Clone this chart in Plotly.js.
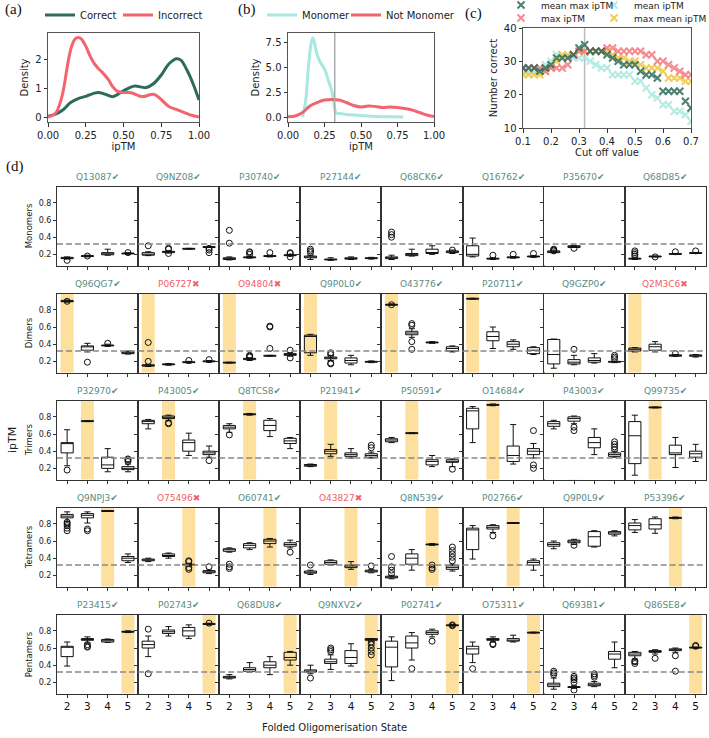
<!DOCTYPE html>
<html><head><meta charset="utf-8">
<script src="https://cdn.plot.ly/plotly-3.0.1.min.js"></script>
<style>body{margin:0;background:#fff}#chart{width:709px;height:738px}</style>
</head><body><div id="chart"></div>
<script>
// ---------- (a) density of ipTM: correct vs incorrect ----------
const correctX = [0,0.05,0.1,0.15,0.2,0.25,0.33,0.38,0.43,0.5,0.57,0.65,0.7,0.75,0.8,0.85,0.88,0.92,0.96,1.0];
const correctY = [0.05,0.12,0.27,0.52,0.65,0.73,0.86,0.8,0.72,0.92,1.08,1.03,1.17,1.46,1.84,2.02,1.97,1.63,1.17,0.6];
const incorrectX = [0,0.05,0.08,0.1,0.12,0.14,0.16,0.18,0.2,0.22,0.25,0.28,0.3,0.33,0.36,0.4,0.43,0.46,0.5,0.55,0.6,0.63,0.7,0.75,0.8,0.85,0.9,0.95,1.0];
const incorrectY = [0.02,0.15,0.5,0.9,1.5,2.1,2.5,2.7,2.75,2.7,2.45,2.1,1.9,1.7,1.55,1.3,1.05,0.9,0.86,0.85,0.75,0.72,0.8,0.62,0.38,0.28,0.18,0.08,0.02];
// ---------- (b) density: monomer vs not monomer ----------
const monoX = [0.1,0.12,0.14,0.16,0.17,0.18,0.2,0.22,0.25,0.28,0.3,0.31,0.32,0.33,0.36,0.4,0.45,0.5,0.6,0.7,0.79];
const monoY = [0.0,1.5,5.0,7.5,7.9,7.5,6.2,5.5,4.8,3.5,2.6,1.8,0.8,0.4,0.35,0.25,0.2,0.15,0.05,0.02,0.01];
const notMonoX = [0,0.05,0.1,0.15,0.2,0.25,0.3,0.35,0.4,0.45,0.5,0.55,0.6,0.65,0.7,0.75,0.8,0.85,0.9,0.95,1.0];
const notMonoY = [0.02,0.1,0.45,1.1,1.45,1.7,1.75,1.7,1.45,1.15,1.0,1.1,1.05,0.95,1.0,0.95,0.85,0.7,0.45,0.2,0.05];
// ---------- (c) number correct vs cut off ----------
const cutoffs = [0.1,0.12,0.14,0.16,0.18,0.2,0.22,0.24,0.26,0.28,0.3,0.32,0.34,0.36,0.38,0.4,0.42,0.44,0.46,0.48,0.5,0.52,0.54,0.56,0.58,0.6,0.62,0.64,0.66,0.68,0.7];
const meanMaxIptm = [28,28,28,27,28,29,31,31,31,32,34,35,33,33,33,32,31,30,29,29,29,27,26,26,25,21,21,21,21,18,16];
const maxIptm = [28,28,28,28,27,28,28,28,29,32,33,33,33,33,33,34,34,33,33,33,33,33,32,32,30,30,29,28,27,26,26];
const meanIptm = [27,27,27,27,29,30,32,31,31,31,31,31,30,29,28,28,26,26,26,26,24,24,22,20,19,17,17,15,15,14,12];
const maxMeanIptm = [26,26,26,26,27,28,30,32,32,32,33,33,33,33,33,33,32,31,31,30,30,29,28,28,28,27,25,25,25,24,24];
const cutLine = 0.32;

// ---------- (d) box plots ----------
const rowNames = ['Monomers','Dimers','Trimers','Tetramers','Pentamers'];
const states = [2,3,4,5];
const monomerIds = ['Q13087','Q9NZ08','P30740','P27144','Q68CK6','Q16762','P35670','Q68D85'];
const dimerIds = ['Q96QG7','P06727','O94804','Q9P0L0','O43776','P20711','Q9GZP0','Q2M3C6'];
const trimerIds = ['P32970','P43005','Q8TCS8','P21941','P50591','O14684','P43003','Q99735'];
const tetramerIds = ['Q9NPJ3','O75496','O60741','O43827','Q8N539','P02766','Q9P0L9','P53396'];
const pentamerIds = ['P23415','P02743','Q68DU8','Q9NXV2','P02741','O75311','Q693B1','Q86SE8'];
const monomerOk = [1,1,1,1,1,1,1,1];
const dimerOk = [1,0,0,1,1,1,1,0];
const trimerOk = [1,1,1,1,1,1,1,1];
const tetramerOk = [1,0,1,0,1,1,1,1];
const pentamerOk = [1,1,1,1,1,1,1,1];
// each box: [q1, median, q3, lower whisker, upper whisker] for states 2,3,4,5 (null = no model)
const monomerBoxes = [
 [[0.15,0.155,0.165,0.145,0.17],[0.175,0.18,0.185,0.17,0.19],[0.195,0.2,0.22,0.19,0.26],[0.205,0.21,0.215,0.2,0.22]],
 [[0.19,0.2,0.22,0.185,0.23],[0.22,0.23,0.235,0.215,0.24],[0.26,0.265,0.27,0.26,0.27],[0.28,0.285,0.29,0.28,0.29]],
 [[0.14,0.15,0.16,0.135,0.17],[0.16,0.165,0.17,0.155,0.175],[0.175,0.18,0.185,0.17,0.19],[0.185,0.19,0.195,0.18,0.2]],
 [[0.16,0.17,0.18,0.14,0.19],[0.135,0.14,0.145,0.13,0.16],[0.145,0.15,0.16,0.14,0.17],[0.15,0.155,0.16,0.145,0.165]],
 [[0.15,0.16,0.17,0.14,0.19],[0.185,0.195,0.21,0.18,0.26],[0.21,0.22,0.26,0.2,0.3],[0.22,0.23,0.24,0.21,0.25]],
 [[0.18,0.2,0.3,0.17,0.39],[0.145,0.15,0.155,0.14,0.16],[0.16,0.165,0.17,0.155,0.175],[0.17,0.175,0.18,0.165,0.185]],
 [[0.22,0.23,0.24,0.22,0.25],[0.28,0.29,0.3,0.28,0.3],null,null],
 [[0.145,0.15,0.155,0.14,0.16],[0.17,0.175,0.18,0.17,0.18],[0.2,0.205,0.21,0.2,0.21],[0.21,0.215,0.22,0.21,0.22]]
];
const monomerOutliers = [
 [[0.13],[0.18],[],[0.22]],
 [[0.3],[0.21,0.26,0.27],[],[0.22,0.25,0.27]],
 [[0.33,0.48],[0.2,0.22,0.23],[0.22],[0.17,0.21,0.22]],
 [[0.22,0.24,0.26],[],[],[]],
 [[0.40,0.43,0.46],[],[],[0.25]],
 [[],[0.19],[0.2],[0.21]],
 [[0.24,0.25,0.26],[0.27],[],[]],
 [[0.18,0.2,0.22,0.24],[0.17],[0.23],[0.24]]
];
const dimerBoxes = [
 [[0.895,0.9,0.91,0.89,0.915],[0.33,0.37,0.38,0.31,0.41],[0.38,0.385,0.39,0.375,0.4],[0.29,0.3,0.31,0.285,0.32]],
 [[0.145,0.15,0.16,0.14,0.165],[0.16,0.165,0.17,0.155,0.175],[0.185,0.19,0.195,0.18,0.2],[0.195,0.2,0.205,0.19,0.21]],
 [[0.18,0.185,0.19,0.18,0.19],[0.22,0.23,0.235,0.21,0.24],[0.26,0.265,0.27,0.26,0.27],[0.27,0.28,0.29,0.26,0.3]],
 [[0.3,0.49,0.505,0.27,0.515],[0.23,0.24,0.25,0.21,0.27],[0.18,0.21,0.24,0.16,0.27],[0.19,0.195,0.2,0.185,0.205]],
 [[0.855,0.86,0.865,0.855,0.87],[0.51,0.53,0.55,0.48,0.58],[0.415,0.42,0.425,0.41,0.43],[0.32,0.35,0.37,0.31,0.38]],
 [[0.925,0.93,0.935,0.925,0.935],[0.44,0.49,0.545,0.35,0.6],[0.37,0.4,0.43,0.34,0.45],[0.29,0.33,0.36,0.28,0.37]],
 [[0.17,0.28,0.455,0.12,0.46],[0.17,0.19,0.22,0.16,0.27],[0.19,0.21,0.24,0.18,0.29],[0.19,0.195,0.2,0.185,0.2]],
 [[0.32,0.34,0.355,0.31,0.36],[0.33,0.37,0.4,0.31,0.43],[0.26,0.27,0.275,0.26,0.28],[0.26,0.265,0.275,0.25,0.28]]
];
const dimerOutliers = [
 [[0.9],[0.19],[0.41],[]],
 [[0.2,0.42],[],[0.21],[0.22]],
 [[],[0.25,0.26,0.27],[0.35,0.6,0.61],[0.24,0.33]],
 [[],[0.17,0.18,0.28,0.3],[],[]],
 [[0.86],[0.34,0.43,0.62,0.64],[],[]],
 [[],[],[],[]],
 [[],[0.34],[],[0.23,0.25,0.27]],
 [[],[],[0.29],[]]
];
const trimerBoxes = [
 [[0.38,0.49,0.5,0.23,0.65],[0.745,0.75,0.755,0.745,0.755],[0.2,0.24,0.33,0.16,0.43],[0.185,0.2,0.22,0.16,0.25]],
 [[0.72,0.745,0.76,0.66,0.77],[0.78,0.795,0.81,0.76,0.82],[0.4,0.5,0.53,0.35,0.61],[0.36,0.38,0.4,0.33,0.46]],
 [[0.66,0.68,0.7,0.62,0.72],[0.825,0.83,0.835,0.82,0.84],[0.64,0.7,0.76,0.57,0.78],[0.49,0.52,0.55,0.43,0.56]],
 [[0.225,0.235,0.245,0.22,0.25],[0.37,0.4,0.42,0.34,0.48],[0.34,0.36,0.38,0.32,0.43],[0.33,0.35,0.37,0.32,0.39]],
 [[0.51,0.53,0.545,0.5,0.56],[0.605,0.61,0.615,0.605,0.615],[0.24,0.28,0.3,0.22,0.35],[0.27,0.28,0.3,0.22,0.31]],
 [[0.66,0.87,0.9,0.5,0.92],[0.935,0.94,0.945,0.93,0.95],[0.28,0.35,0.46,0.25,0.71],[0.36,0.4,0.43,0.32,0.49]],
 [[0.69,0.72,0.745,0.66,0.76],[0.75,0.78,0.8,0.72,0.81],[0.44,0.5,0.56,0.36,0.66],[0.34,0.36,0.38,0.33,0.4]],
 [[0.255,0.58,0.745,0.12,0.82],[0.905,0.91,0.915,0.905,0.915],[0.36,0.38,0.47,0.21,0.56],[0.33,0.37,0.4,0.28,0.48]]
];
const trimerOutliers = [
 [[0.18],[],[],[0.28,0.3,0.31]],
 [[],[0.72,0.73],[],[0.29]],
 [[0.59],[],[],[]],
 [[],[],[],[0.44,0.47]],
 [[],[],[],[0.19]],
 [[],[],[],[0.2,0.24,0.64]],
 [[],[0.64,0.68],[],[0.42,0.45,0.48,0.51]],
 [[],[],[],[]]
];
const tetramerBoxes = [
 [[0.87,0.89,0.91,0.83,0.94],[0.87,0.9,0.92,0.81,0.94],[0.945,0.95,0.955,0.945,0.955],[0.37,0.4,0.42,0.35,0.45]],
 [[0.37,0.38,0.39,0.36,0.4],[0.42,0.43,0.45,0.4,0.46],[0.32,0.325,0.33,0.31,0.34],[0.23,0.24,0.255,0.22,0.26]],
 [[0.48,0.5,0.51,0.47,0.52],[0.52,0.55,0.57,0.5,0.58],[0.57,0.6,0.62,0.53,0.63],[0.54,0.56,0.58,0.52,0.61]],
 [[0.225,0.235,0.25,0.21,0.26],[0.33,0.35,0.37,0.32,0.38],[0.29,0.31,0.32,0.27,0.36],[0.24,0.25,0.26,0.23,0.27]],
 [[0.17,0.18,0.19,0.16,0.2],[0.33,0.4,0.45,0.26,0.5],[0.555,0.56,0.565,0.55,0.57],[0.27,0.29,0.31,0.25,0.33]],
 [[0.5,0.73,0.75,0.39,0.78],[0.74,0.76,0.78,0.7,0.79],[0.805,0.81,0.815,0.805,0.815],[0.32,0.35,0.37,0.26,0.39]],
 [[0.54,0.56,0.58,0.51,0.6],[0.58,0.6,0.61,0.56,0.62],[0.54,0.65,0.71,0.53,0.72],[0.68,0.695,0.71,0.66,0.72]],
 [[0.73,0.78,0.81,0.7,0.85],[0.74,0.79,0.86,0.69,0.88],[0.865,0.87,0.875,0.86,0.88],null]
];
const tetramerOutliers = [
 [[0.72,0.75,0.78,0.8,0.82],[0.72,0.74],[],[]],
 [[],[],[0.27,0.29,0.36,0.37],[0.3]],
 [[0.28,0.3,0.33],[],[],[0.47]],
 [[0.32],[],[],[0.31]],
 [[0.22,0.26,0.3,0.42],[],[0.27,0.29,0.32],[0.37,0.41,0.45,0.49,0.53]],
 [[],[0.66],[],[]],
 [[],[0.55],[],[]],
 [[],[],[],[]]
];
const pentamerBoxes = [
 [[0.5,0.61,0.62,0.39,0.67],[0.69,0.7,0.71,0.66,0.73],[0.67,0.685,0.7,0.665,0.705],[0.785,0.79,0.795,0.78,0.8]],
 [[0.6,0.64,0.68,0.5,0.74],[0.77,0.79,0.81,0.74,0.85],[0.74,0.8,0.84,0.71,0.87],[0.875,0.88,0.885,0.87,0.89]],
 [[0.25,0.26,0.27,0.24,0.29],[0.33,0.35,0.37,0.32,0.43],[0.37,0.4,0.44,0.29,0.5],[0.46,0.49,0.55,0.4,0.56]],
 [[0.32,0.33,0.345,0.3,0.4],[0.42,0.44,0.47,0.35,0.52],[0.42,0.49,0.57,0.39,0.65],[0.69,0.7,0.71,0.68,0.71]],
 [[0.38,0.61,0.68,0.22,0.73],[0.6,0.66,0.74,0.46,0.78],[0.76,0.78,0.8,0.73,0.82],[0.86,0.865,0.87,0.855,0.875]],
 [[0.53,0.59,0.62,0.43,0.67],[0.69,0.7,0.71,0.67,0.73],[0.68,0.69,0.71,0.67,0.75],[0.775,0.78,0.785,0.775,0.785]],
 [[0.15,0.17,0.19,0.12,0.25],[0.14,0.145,0.15,0.13,0.16],[0.16,0.17,0.19,0.15,0.21],[0.47,0.53,0.56,0.37,0.67]],
 [[0.51,0.53,0.55,0.47,0.56],[0.55,0.56,0.57,0.53,0.58],[0.57,0.58,0.59,0.55,0.6],[0.6,0.605,0.61,0.6,0.61]]
];
const pentamerOutliers = [
 [[],[0.61,0.62,0.64],[],[]],
 [[0.3,0.82],[],[],[0.89]],
 [[],[],[],[]],
 [[0.25],[0.56,0.58,0.6],[],[0.52,0.56,0.6,0.64,0.67]],
 [[],[0.36],[0.68],[0.86,0.87]],
 [[0.36],[0.64,0.65],[],[]],
 [[0.29,0.31,0.33],[0.11,0.2,0.23,0.25,0.27],[0.26,0.28,0.3],[]],
 [[0.42,0.44,0.45],[0.48],[0.33,0.51],[0.62,0.63]]
];
const rowIds = [monomerIds,dimerIds,trimerIds,tetramerIds,pentamerIds];
const rowOk = [monomerOk,dimerOk,trimerOk,tetramerOk,pentamerOk];
const rowBoxes = [monomerBoxes,dimerBoxes,trimerBoxes,tetramerBoxes,pentamerBoxes];
const rowOutliers = [monomerOutliers,dimerOutliers,trimerOutliers,tetramerOutliers,pentamerOutliers];
const rowState = [1,2,3,4,5];

// ---------- build ----------
const W = 709, H = 738;
const FONT = 'DejaVu Sans, Arial, sans-serif';
const GREEN = '#2e6b58', RED = '#f2646e', CYAN = '#a8e8df', YELLOW = '#f0c63a';
const TITLE_OK = '#5a8d84', TITLE_BAD = '#f0606a';
const xd = p => p / W, yd = p => 1 - p / H;
const traces = [], shapes = [], annotations = [];
const layout = {
  width: W, height: H, margin: {l:0, r:0, t:0, b:0, autoexpand: false},
  paper_bgcolor: '#fff', plot_bgcolor: '#fff', showlegend: true,
  font: {family: FONT, size: 8, color: '#222'},
  shapes, annotations
};
const axName = (t, n) => t + (n === 1 ? '' : n);

const colL = 57, colW = 81.1, rowT = 187, rowStep = 107, rowH = 78.5;
for (let r = 0; r < 5; r++) {
  for (let c = 0; c < 8; c++) {
    const n = r * 8 + c + 1;
    const xa = axName('x', n), ya = axName('y', n);
    const l = colL + c * colW, top = rowT + r * rowStep;
    layout[axName('xaxis', n)] = {
      domain: [xd(l), xd(l + colW)], range: [1.5, 5.5], anchor: ya,
      tickvals: states, ticks: 'outside', ticklen: 3, tickcolor: '#333',
      showticklabels: r === 4, tickfont: {size: 10.5, color: '#111'},
      showline: true, mirror: true, linecolor: '#333', linewidth: 1,
      showgrid: false, zeroline: false
    };
    layout[axName('yaxis', n)] = {
      domain: [yd(top + rowH), yd(top)], range: [0.07, 0.985], anchor: xa,
      tickvals: [0.2, 0.4, 0.6, 0.8], ticks: 'outside', ticklen: 3, tickcolor: '#333',
      showticklabels: c === 0, tickfont: {size: 8, color: '#222'},
      showline: true, mirror: true, linecolor: '#333', linewidth: 1,
      showgrid: false, zeroline: false
    };
    const st = rowState[r];
    if (st >= 2) {
      shapes.push({type: 'rect', xref: xa, yref: ya + ' domain', x0: st - 0.32, x1: st + 0.32, y0: 0, y1: 1,
        fillcolor: '#fde09e', line: {width: 0}, layer: 'below'});
    }
    shapes.push({type: 'line', xref: xa + ' domain', yref: ya, x0: 0, x1: 1, y0: cutLine, y1: cutLine,
      line: {color: '#888', width: 1.4, dash: '6px,3px'}, layer: 'above'});
    const boxes = rowBoxes[r][c];
    const bx = [], q1 = [], med = [], q3 = [], lo = [], hi = [];
    boxes.forEach((b, i) => { if (b) { bx.push(states[i]); q1.push(b[0]); med.push(b[1]); q3.push(b[2]); lo.push(b[3]); hi.push(b[4]); } });
    traces.push({type: 'box', xaxis: xa, yaxis: ya, x: bx, q1: q1, median: med, q3: q3,
      lowerfence: lo, upperfence: hi, boxpoints: false, width: 0.6, whiskerwidth: 0.5,
      line: {color: '#111', width: 1}, fillcolor: 'rgba(255,255,255,0)', showlegend: false, hoverinfo: 'skip'});
    const ox = [], oy = [];
    rowOutliers[r][c].forEach((arr, i) => arr.forEach(v => { ox.push(states[i]); oy.push(v); }));
    if (ox.length) traces.push({type: 'scatter', mode: 'markers', xaxis: xa, yaxis: ya, x: ox, y: oy,
      marker: {symbol: 'circle-open', size: 6, color: '#111', line: {width: 1, color: '#111'}},
      showlegend: false, hoverinfo: 'skip'});
    const ok = rowOk[r][c];
    annotations.push({xref: xa + ' domain', yref: ya + ' domain', x: 0.5, y: 1, xanchor: 'center', yanchor: 'bottom', yshift: 3,
      showarrow: false, text: rowIds[r][c] + (ok ? '✔' : '✖'),
      font: {family: FONT, size: 9, color: ok ? TITLE_OK : TITLE_BAD}});
  }
  annotations.push({xref: 'paper', yref: 'paper', x: xd(29), y: yd(rowT + r * rowStep + rowH / 2),
    xanchor: 'center', yanchor: 'middle',
    text: rowNames[r], textangle: -90, showarrow: false, font: {family: FONT, size: 8.5, color: '#222'}});
}
annotations.push({xref: 'paper', yref: 'paper', x: xd(12), y: yd(440), xanchor: 'center', yanchor: 'middle', text: 'ipTM', textangle: -90,
  showarrow: false, font: {family: FONT, size: 11, color: '#222'}});
annotations.push({xref: 'paper', yref: 'paper', x: xd(334), y: yd(727), xanchor: 'center', yanchor: 'middle', text: 'Folded Oligomerisation State',
  showarrow: false, font: {family: FONT, size: 10, color: '#222'}});

// top panels
const topAx = (n, l, r, t, b, xr, yr, xt, yt, xfmt, yfmt) => {
  layout['xaxis' + n] = {domain: [xd(l), xd(r)], range: xr, anchor: 'y' + n, tickvals: xt, tickformat: xfmt,
    ticks: 'outside', ticklen: 3.5, tickcolor: '#333', tickfont: {size: 10, color: '#222'},
    showline: true, mirror: true, linecolor: '#555', linewidth: 1, showgrid: false, zeroline: false};
  layout['yaxis' + n] = {domain: [yd(b), yd(t)], range: yr, anchor: 'x' + n, tickvals: yt, tickformat: yfmt,
    ticks: 'outside', ticklen: 3.5, tickcolor: '#333', tickfont: {size: 10, color: '#222'},
    showline: true, mirror: true, linecolor: '#555', linewidth: 1, showgrid: false, zeroline: false};
};
topAx(41, 48, 199, 33, 122, [0, 1], [-0.15, 2.9], [0, 0.25, 0.5, 0.75, 1], [0, 1, 2], '.2f', 'd');
topAx(42, 288, 434, 33, 122, [0, 1], [-0.5, 8.4], [0, 0.25, 0.5, 0.75, 1], [0, 2.5, 5, 7.5], '.2f', '.1f');
topAx(43, 523, 691, 28, 128, [0.1, 0.7], [10, 40], [0.1, 0.2, 0.3, 0.4, 0.5, 0.6, 0.7], [10, 20, 30, 40], '.1f', 'd');
layout.xaxis41.title = {text: 'ipTM', font: {size: 10}, standoff: 2};
layout.yaxis41.title = {text: 'Density', font: {size: 10}, standoff: 4};
layout.xaxis42.title = {text: 'ipTM', font: {size: 10}, standoff: 2};
layout.yaxis42.title = {text: 'Density', font: {size: 10}, standoff: 4};
layout.xaxis43.title = {text: 'Cut off value', font: {size: 10}, standoff: 2};
layout.yaxis43.title = {text: 'Number correct', font: {size: 10}, standoff: 4};

const lineT = (x, y, name, color, ax, leg) => ({type: 'scatter', mode: 'lines', x, y, name, xaxis: 'x' + ax, yaxis: 'y' + ax,
  line: {color, width: 3, shape: 'spline', smoothing: 1}, legend: leg, hoverinfo: 'skip'});
traces.push(lineT(correctX, correctY, 'Correct', GREEN, 41, 'legend'));
traces.push(lineT(incorrectX, incorrectY, 'Incorrect', RED, 41, 'legend2'));
traces.push(lineT(monoX, monoY, 'Monomer', CYAN, 42, 'legend7'));
traces.push(lineT(notMonoX, notMonoY, 'Not Monomer', RED, 42, 'legend8'));
const mk = (y, name, color, leg) => ({type: 'scatter', mode: 'markers', x: cutoffs, y, name, xaxis: 'x43', yaxis: 'y43',
  marker: {symbol: 'x-thin', size: 7, color, line: {width: 2, color}}, opacity: 0.85, legend: leg, hoverinfo: 'skip'});
traces.push(mk(meanIptm, 'mean ipTM', CYAN, 'legend5'));
traces.push(mk(maxMeanIptm, 'max mean ipTM', YELLOW, 'legend6'));
traces.push(mk(maxIptm, 'max ipTM', '#f4777f', 'legend4'));
traces.push(mk(meanMaxIptm, 'mean max ipTM', GREEN, 'legend3'));
const leg = (x, y, fs) => ({x: xd(x), y: yd(y), xanchor: 'left', yanchor: 'middle', orientation: 'h', bgcolor: 'rgba(0,0,0,0)',
  font: {family: FONT, size: fs, color: '#222'}, itemwidth: 30, tracegroupgap: 0});
layout.legend = leg(40, 15, 10);
layout.legend2 = leg(118, 15, 10);
layout.legend7 = leg(262, 15, 10);
layout.legend8 = leg(346, 15, 10);
layout.legend3 = leg(501, 5, 9);
layout.legend4 = leg(501, 18, 9);
layout.legend5 = leg(594, 5, 9);
layout.legend6 = leg(594, 18, 9);

shapes.push({type: 'line', xref: 'x42', yref: 'y42 domain', x0: cutLine, x1: cutLine, y0: 0, y1: 1, line: {color: '#aaa', width: 1.5}});
shapes.push({type: 'line', xref: 'x43', yref: 'y43 domain', x0: cutLine, x1: cutLine, y0: 0, y1: 1, line: {color: '#bbb', width: 1.5}, layer: 'below'});

const SERIF = 'Liberation Serif, Times New Roman, serif';
[['(a)', 3, 10], ['(b)', 236, 10], ['(c)', 463, 13], ['(d)', 4, 167]].forEach(([t, x, y]) =>
  annotations.push({xref: 'paper', yref: 'paper', x: xd(x), y: yd(y), xanchor: 'left', yanchor: 'middle', text: t,
    showarrow: false, font: {family: SERIF, size: 15, color: '#111'}}));

Plotly.newPlot('chart', traces, layout, {staticPlot: true, displayModeBar: false});
</script></body></html>
